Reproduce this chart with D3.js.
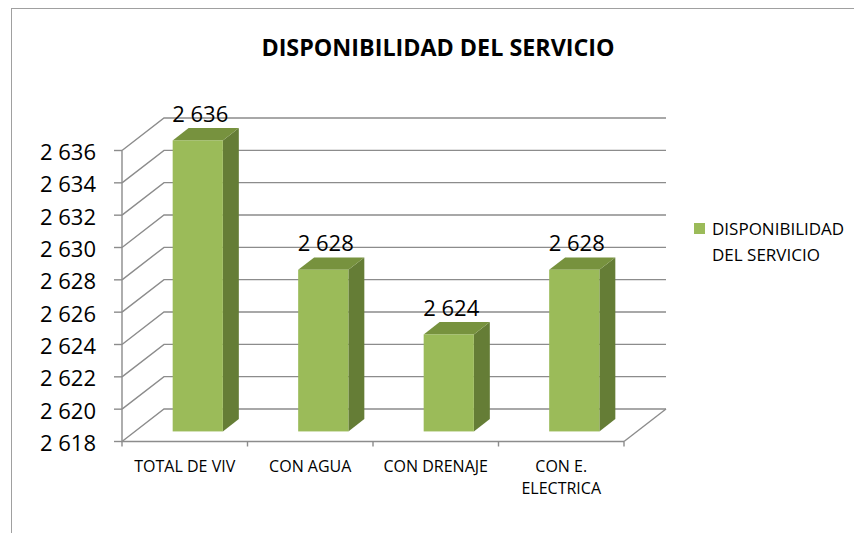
<!DOCTYPE html>
<html>
<head>
<meta charset="utf-8">
<script src="https://cdn.jsdelivr.net/npm/d3@7"></script>
<style>
  body { margin: 0; background: #fff; }
  text { font-family: "Open Sans", sans-serif; fill: #000; }
  .grid { stroke: #8c8c8c; stroke-width: 1.4; fill: none; }
</style>
</head>
<body>
<div id="chart"></div>
<script>
const categories = ["TOTAL DE VIV", "CON AGUA", "CON DRENAJE", "CON E. ELECTRICA"];
const catLines = [["TOTAL DE VIV"], ["CON AGUA"], ["CON DRENAJE"], ["CON E.", "ELECTRICA"]];
const values = [2636, 2628, 2624, 2628];
const valueLabels = ["2 636", "2 628", "2 624", "2 628"];
const yTicks = [2618, 2620, 2622, 2624, 2626, 2628, 2630, 2632, 2634, 2636];
const seriesName = ["DISPONIBILIDAD", "DEL SERVICIO"];
const title = "DISPONIBILIDAD DEL SERVICIO";

const width = 854, height = 533;
const depthX = 42, depthY = -32.5;   // full depth of the 3d box
const front = 0.31, back = 0.69;     // bar depth as fraction of the box

const svg = d3.select("#chart").append("svg")
    .attr("width", width)
    .attr("height", height);

// chart border (right and bottom fall outside the picture)
svg.append("rect")
    .attr("x", 11.5).attr("y", 8.5)
    .attr("width", 1000).attr("height", 800)
    .attr("fill", "none")
    .attr("stroke", "#a0a0a0");

const y = d3.scaleLinear().domain([2618, 2636]).range([441.5, 150.5]);
const x = d3.scaleBand().domain(categories).range([122, 624])
    .paddingInner(0.6).paddingOuter(0.3);
const xCat = d3.scaleBand().domain(categories).range([122, 624]);

// walls: left diagonals + back horizontal lines
const grid = svg.append("g");
yTicks.forEach(function(v) {
  grid.append("path").attr("class", "grid")
    .attr("d", "M122," + y(v) + "L" + (122 + depthX) + "," + (y(v) + depthY) +
               "H" + (624 + depthX));
});
// floor right edge
grid.append("path").attr("class", "grid")
  .attr("d", "M624," + y(2618) + "L" + (624 + depthX) + "," + (y(2618) + depthY));

// front axes
grid.append("path").attr("class", "grid")
  .attr("d", "M122," + y(2636) + "V" + y(2618) + "H624");
yTicks.forEach(function(v) {
  grid.append("path").attr("class", "grid").attr("d", "M114," + y(v) + "H122");
});
categories.concat([null]).forEach(function(c) {
  const tx = c === null ? 624 : xCat(c);
  grid.append("path").attr("class", "grid")
    .attr("d", "M" + tx + "," + y(2618) + "V" + (y(2618) + 5));
});

// y tick labels
svg.append("g").selectAll("text")
  .data(yTicks)
  .enter().append("text")
    .attr("x", 96)
    .attr("y", function(d) { return y(d) + 9.5; })
    .attr("text-anchor", "end")
    .style("font-size", "22px")
    .text(function(d) { return String(d).replace(/^(\d)(\d{3})$/, "$1 $2"); });

// bars
const bars = svg.append("g").selectAll("g")
  .data(values)
  .enter().append("g");

bars.each(function(d, i) {
  const g = d3.select(this);
  const x0 = x(categories[i]) + depthX * front;
  const x1 = x0 + x.bandwidth();
  const top = y(d) + depthY * front;
  const bot = y(2618) + depthY * front;
  const sx = depthX * (back - front), sy = depthY * (back - front);
  g.append("path")
    .attr("d", "M" + x1 + "," + top + "L" + (x1 + sx) + "," + (top + sy) +
               "V" + (bot + sy) + "L" + x1 + "," + bot + "Z")
    .attr("fill", "#657d36");
  g.append("path")
    .attr("d", "M" + x0 + "," + top + "L" + (x0 + sx) + "," + (top + sy) +
               "H" + (x1 + sx) + "L" + x1 + "," + top + "Z")
    .attr("fill", "#77923e");
  g.append("rect")
    .attr("x", x0).attr("y", top)
    .attr("width", x.bandwidth()).attr("height", bot - top)
    .attr("fill", "#9bbb59");
  g.append("text")
    .attr("x", x0 + x.bandwidth() / 2 + 2.5)
    .attr("y", top + sy - 6)
    .attr("text-anchor", "middle")
    .style("font-size", "22px")
    .text(valueLabels[i]);
});

// category labels
svg.append("g").selectAll("text")
  .data(categories)
  .enter().append("text")
    .attr("x", function(d) { return xCat(d) + xCat.bandwidth() / 2; })
    .attr("y", 471.5)
    .attr("text-anchor", "middle")
    .style("font-size", "16px")
    .each(function(d, i) {
      const t = d3.select(this);
      catLines[i].forEach(function(line, k) {
        t.append("tspan")
          .attr("x", xCat(d) + xCat.bandwidth() / 2)
          .attr("dy", k === 0 ? 0 : 22.5)
          .text(line);
      });
    });

// title
svg.append("text")
    .attr("x", 438)
    .attr("y", 56)
    .attr("text-anchor", "middle")
    .style("font-size", "23.3px")
    .style("font-weight", "bold")
    .text(title);

// legend
svg.append("rect")
    .attr("x", 694).attr("y", 223)
    .attr("width", 11).attr("height", 11)
    .attr("fill", "#9bbb59");
svg.append("g").selectAll("text")
  .data(seriesName)
  .enter().append("text")
    .attr("x", 712)
    .attr("y", function(d, i) { return 235 + i * 26; })
    .style("font-size", "17px")
    .text(function(d) { return d; });
</script>
</body>
</html>
